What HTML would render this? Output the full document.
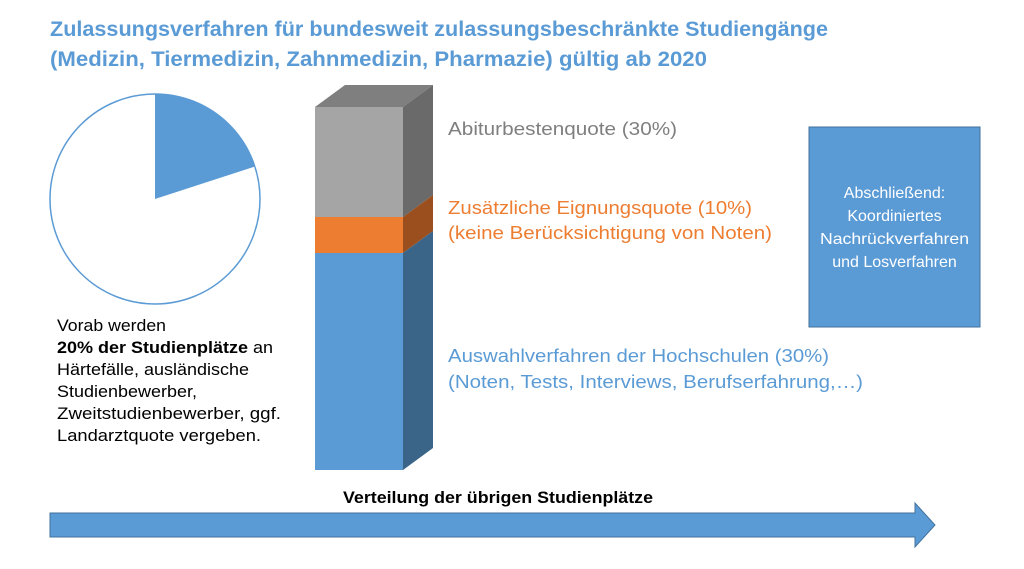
<!DOCTYPE html>
<html><head><meta charset="utf-8"><style>
body{margin:0;width:1024px;height:569px;background:#fff;overflow:hidden;font-family:"Liberation Sans",sans-serif}
svg{position:absolute;left:0;top:0}
</style></head><body>
<svg width="1024" height="569" viewBox="0 0 1024 569" font-family="Liberation Sans, sans-serif">
<text x="50" y="36" font-size="21.5" font-weight="bold" fill="#5b9bd5" textLength="778" lengthAdjust="spacingAndGlyphs">Zulassungsverfahren für bundesweit zulassungsbeschränkte Studiengänge</text>
<text x="50" y="66" font-size="21.5" font-weight="bold" fill="#5b9bd5" textLength="657" lengthAdjust="spacingAndGlyphs">(Medizin, Tiermedizin, Zahnmedizin, Pharmazie) gültig ab 2020</text>
<circle cx="155" cy="199" r="105" fill="#fff" stroke="#5b9bd5" stroke-width="1.5"/>
<path d="M155,199 L155,94 A105,105 0 0 1 255,166.5 Z" fill="#5b9bd5"/>
<g font-size="16.5" fill="#000">
<text x="57" y="331" textLength="109" lengthAdjust="spacingAndGlyphs">Vorab werden</text>
<text x="57" y="353" textLength="216" lengthAdjust="spacingAndGlyphs"><tspan font-weight="bold">20% der Studienplätze</tspan> an</text>
<text x="57" y="375" textLength="192" lengthAdjust="spacingAndGlyphs">Härtefälle, ausländische</text>
<text x="57" y="397" textLength="140" lengthAdjust="spacingAndGlyphs">Studienbewerber,</text>
<text x="57" y="419" textLength="224" lengthAdjust="spacingAndGlyphs">Zweitstudienbewerber, ggf.</text>
<text x="57" y="441" textLength="204" lengthAdjust="spacingAndGlyphs">Landarztquote vergeben.</text>
</g>
<polygon points="315,107 345,85 433,85 403,107" fill="#7f7f7f"/>
<polygon points="403,107 433,85 433,195 403,217" fill="#6a6a6a"/>
<polygon points="403,217 433,195 433,231 403,253" fill="#9c4f1e"/>
<polygon points="403,253 433,231 433,448 403,470" fill="#3a6589"/>
<rect x="315" y="107" width="88" height="110" fill="#a5a5a5"/>
<rect x="315" y="217" width="88" height="36" fill="#ed7d31"/>
<rect x="315" y="253" width="88" height="217" fill="#5b9bd5"/>
<text x="448" y="135" font-size="18" fill="#7f7f7f" textLength="229" lengthAdjust="spacingAndGlyphs">Abiturbestenquote (30%)</text>
<text x="448" y="214" font-size="18" fill="#ed7d31" textLength="304" lengthAdjust="spacingAndGlyphs">Zusätzliche Eignungsquote (10%)</text>
<text x="448" y="239" font-size="18" fill="#ed7d31" textLength="324" lengthAdjust="spacingAndGlyphs">(keine Berücksichtigung von Noten)</text>
<text x="448" y="362" font-size="18" fill="#5b9bd5" textLength="381" lengthAdjust="spacingAndGlyphs">Auswahlverfahren der Hochschulen (30%)</text>
<text x="448" y="388" font-size="18" fill="#5b9bd5" textLength="415" lengthAdjust="spacingAndGlyphs">(Noten, Tests, Interviews, Berufserfahrung,…)</text>
<rect x="809" y="127" width="171" height="200" fill="#5b9bd5" stroke="#41719c" stroke-width="1"/>
<g font-size="16" fill="#fff" text-anchor="middle">
<text x="894.5" y="198">Abschließend:</text>
<text x="894.5" y="221">Koordiniertes</text>
<text x="894.5" y="244" textLength="149" lengthAdjust="spacingAndGlyphs">Nachrückverfahren</text>
<text x="894.5" y="267">und Losverfahren</text>
</g>
<text x="343" y="503" font-size="16.5" font-weight="bold" fill="#000" textLength="310" lengthAdjust="spacingAndGlyphs">Verteilung der übrigen Studienplätze</text>
<polygon points="50,513 915,513 915,503 935,525 915,547 915,537 50,537" fill="#5b9bd5" stroke="#41719c" stroke-width="1"/>
</svg>
</body></html>
